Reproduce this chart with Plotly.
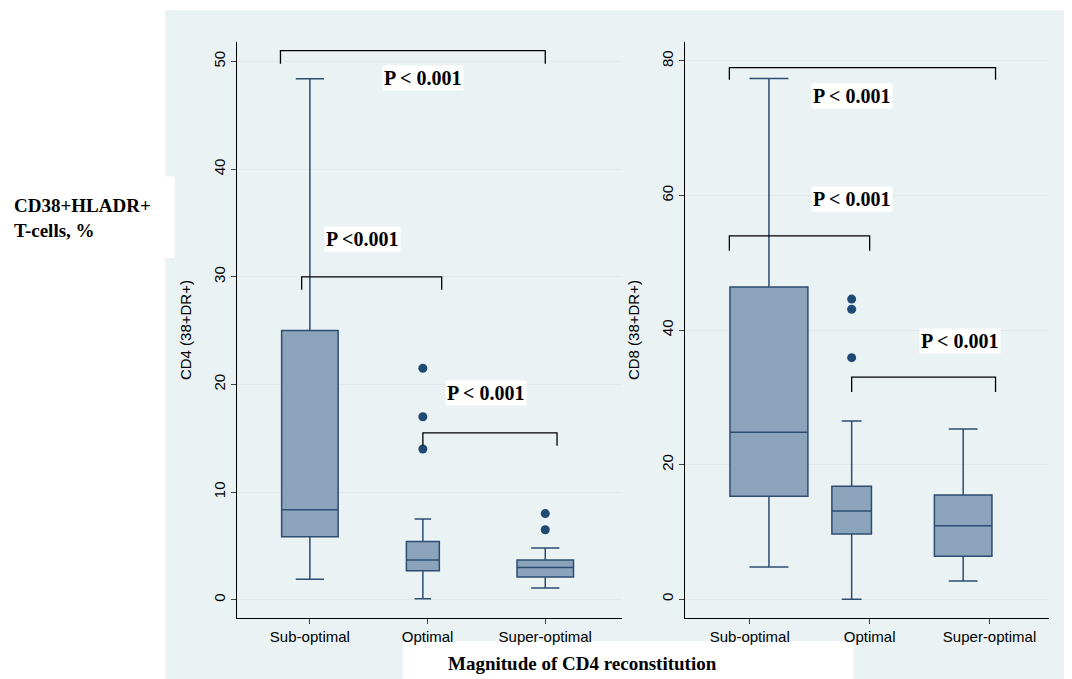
import plotly.graph_objects as go

categories = ["Sub-optimal", "Optimal", "Super-optimal"]

# CD4 panel box statistics
cd4_q1 = [5.85, 2.7, 2.1]
cd4_median = [8.36, 3.7, 3.0]
cd4_q3 = [25.0, 5.4, 3.7]
cd4_low = [1.9, 0.1, 1.1]
cd4_high = [48.4, 7.5, 4.8]
cd4_outliers = [[], [14.0, 17.0, 21.5], [6.5, 8.0]]

# CD8 panel box statistics
cd8_q1 = [15.3, 9.7, 6.4]
cd8_median = [24.8, 13.1, 10.9]
cd8_q3 = [46.4, 16.8, 15.5]
cd8_low = [4.8, 0.0, 2.7]
cd8_high = [77.4, 26.5, 25.3]
cd8_outliers = [[], [35.9, 43.1, 44.6], []]

# brackets: (x start, x end, height, tick drop, label, label x, label y)
cd4_brackets = [(-0.25, 2.0, 51, 1.2, "P < 0.001", 0.96, 48.5),
                (-0.07, 1.12, 30, 1.2, "P <0.001", 0.45, 33.5),
                (0.96, 2.1, 15.5, 1.2, "P < 0.001", 1.5, 19.2)]
cd8_brackets = [(-0.17, 2.05, 79, 1.8, "P < 0.001", 0.85, 74.8),
                (-0.17, 1.0, 54, 2.2, "P < 0.001", 0.85, 59.5),
                (0.85, 2.05, 33, 2.2, "P < 0.001", 1.75, 38.3)]

cd4_pos = [0.0, 0.96, 2.0]
cd8_pos = [0.16, 0.85, 1.78]

fill = "#8ca4bb"
edge = "#2b4d72"

# page has an 8px body margin; shift everything up/left to compensate
dx = 8 / 1072
dy = 8 / 679

fig = go.Figure()


def add_panel(xa, ya, pos, q1, med, q3, low, high, outl, brackets, width):
    for i in range(3):
        fig.add_trace(go.Box(
            x=[pos[i]], q1=[q1[i]], median=[med[i]], q3=[q3[i]],
            lowerfence=[low[i]], upperfence=[high[i]],
            width=width[i], fillcolor=fill, line=dict(color=edge, width=1.5),
            boxpoints=False, xaxis=xa, yaxis=ya, showlegend=False))
        if outl[i]:
            fig.add_trace(go.Scatter(
                x=[pos[i]] * len(outl[i]), y=outl[i], mode="markers",
                marker=dict(color="#1f4a74", size=9),
                xaxis=xa, yaxis=ya, showlegend=False))
    for x0, x1, h, d, lab, lx, ly in brackets:
        fig.add_trace(go.Scatter(
            x=[x0, x0, x1, x1], y=[h - d, h, h, h - d], mode="lines",
            line=dict(color="black", width=1.3),
            xaxis=xa, yaxis=ya, showlegend=False))
        fig.add_annotation(x=lx, y=ly, xref=xa, yref=ya, text="<b>%s</b>" % lab,
                           showarrow=False, bgcolor="white",
                           font=dict(family="Liberation Serif", size=20, color="black"))


add_panel("x", "y", cd4_pos, cd4_q1, cd4_median, cd4_q3, cd4_low, cd4_high,
          cd4_outliers, cd4_brackets, [0.48, 0.28, 0.48])
add_panel("x2", "y2", cd8_pos, cd8_q1, cd8_median, cd8_q3, cd8_low, cd8_high,
          cd8_outliers, cd8_brackets, [0.65, 0.33, 0.48])

axfont = dict(family="Liberation Sans", size=15, color="black")
xcommon = dict(tickvals=[0, 1, 2], ticktext=categories, showgrid=False,
               showline=True, linecolor="black", ticks="outside", tickfont=axfont,
               zeroline=False)
ycommon = dict(showline=True, linecolor="black", ticks="outside", tickangle=-90,
               tickfont=axfont, gridcolor="#e3e9ea", zeroline=False)

ydom = [0.0898 + dy, 0.938 + dy]

fig.update_layout(
    width=1072, height=679, margin=dict(l=0, r=0, t=0, b=0),
    paper_bgcolor="white", plot_bgcolor="white",
    xaxis=dict(domain=[0.221 - dx, 0.580 - dx], range=[-0.62, 2.65], **xcommon),
    xaxis2=dict(domain=[0.639 - dx, 0.979 - dx], range=[-0.54, 2.5], anchor="y2", **xcommon),
    yaxis=dict(domain=ydom, range=[-1.7, 51.8], tickvals=[0, 10, 20, 30, 40, 50],
               title=dict(text="CD4 (38+DR+)", font=axfont), **ycommon),
    yaxis2=dict(domain=ydom, range=[-2.8, 82.8], anchor="x2",
                tickvals=[0, 20, 40, 60, 80],
                title=dict(text="CD8 (38+DR+)", font=axfont), **ycommon),
    shapes=[
        dict(type="rect", xref="paper", yref="paper", x0=0.154 - dx, x1=1, y0=0,
             y1=0.985 + dy, fillcolor="#eaf2f3", line=dict(width=0), layer="below"),
        dict(type="rect", xref="paper", yref="paper", x0=0, x1=0.163 - dx,
             y0=0.62 + dy, y1=0.74 + dy,
             fillcolor="white", line=dict(width=0), layer="below"),
        dict(type="rect", xref="paper", yref="paper", x0=0.376 - dx, x1=0.796 - dx,
             y0=0, y1=0.056 + dy,
             fillcolor="white", line=dict(width=0), layer="below"),
    ],
)
fig.add_annotation(x=0.004, y=0.683 + dy + 22 / 679, xref="paper", yref="paper",
                   xanchor="left", align="left", showarrow=False,
                   text="<b>CD38+HLADR+<br>T-cells, %</b>",
                   font=dict(family="Liberation Serif", size=19, color="black"))
fig.add_annotation(x=0.543 - dx, y=0.0162, xref="paper", yref="paper", showarrow=False,
                   text="<b>Magnitude of CD4 reconstitution</b>",
                   font=dict(family="Liberation Serif", size=19, color="black"))

fig.write_html("out.html")
